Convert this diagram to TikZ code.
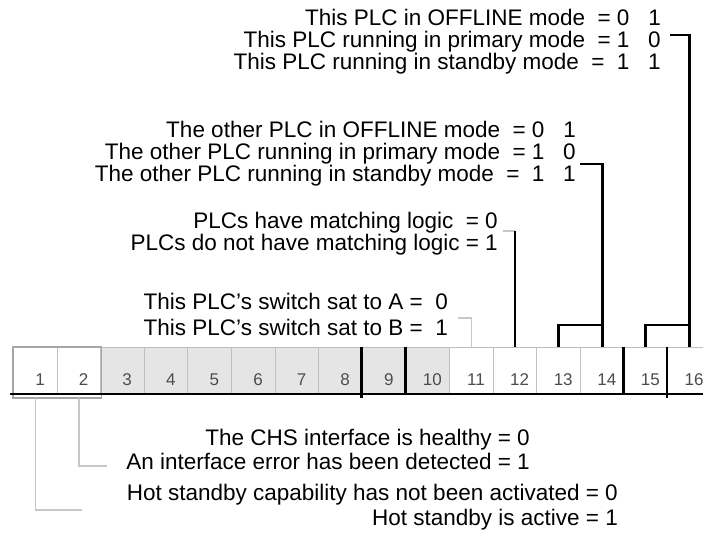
\documentclass[tikz,border=0pt]{standalone}
\usepackage{fontspec}
\setmainfont{Liberation Sans}
\begin{document}
\begin{tikzpicture}[x=1pt,y=-1pt,
  lab/.style={anchor=base east, inner sep=0pt, font=\fontsize{22.5}{27}\selectfont},
  num/.style={anchor=base, inner sep=0pt, text=black!70, font=\fontsize{17}{20}\selectfont},
  cellw/.style={draw=black!25, line width=1pt, fill=white, minimum width=43.6pt, minimum height=46pt, inner sep=0pt, anchor=north west},
  cellg/.style={cellw, fill=black!10},
  blk/.style={line width=2.8pt, line join=miter},
  gry/.style={draw=black!22, line width=1.5pt},
]
\useasboundingbox (0,0) rectangle (703,538);
\fill[white] (0,0) rectangle (703,538);

% register cells
\foreach \i in {1,2,11,12,13,14,15,16}
  \node[cellw] (c\i) at ({13+(\i-1)*43.6},347) {};
\foreach \i in {3,...,10}
  \node[cellg] (c\i) at ({13+(\i-1)*43.6},347) {};
\foreach \i in {1,...,16}
  \node[num] (n\i) at ({13+(\i-1)*43.6+27},385) {\i};
\draw[black!35, line width=1.2pt] (c1.north west) rectangle ([yshift=-4pt]c2.south east);

% thick dividers and base line
\draw[blk] (c9.north west) -- ([yshift=-4pt]c9.south west);
\draw[blk] (c10.north west) -- (c10.south west);
\draw[blk] (c15.north west) -- (c15.south west);
\draw[blk] (c16.north west) -- ([yshift=-4pt]c16.south west);
\draw[line width=2.5pt] ([xshift=-3pt]c1.south west) -- (c16.south east);

% texts
\node[lab] (t1) at (661,25) {This PLC in OFFLINE mode~~= 0~~~1};
\node[lab] (t2) at (661,47) {This PLC running in primary mode~~= 1~~~0};
\node[lab] (t3) at (661,69) {This PLC running in standby mode~~=~~1~~~1};
\node[lab] (o1) at (576,137) {The other PLC in OFFLINE mode~~= 0~~~1};
\node[lab] (o2) at (576,159) {The other PLC running in primary mode~~= 1~~~0};
\node[lab] (o3) at (576,181) {The other PLC running in standby mode~~=~~1~~~1};
\node[lab] (m1) at (498,228) {PLCs have matching logic~~= 0};
\node[lab] (m2) at (498,250) {PLCs do not have matching logic = 1};
\node[lab] (s1) at (448,309) {This PLC’s switch sat to A =~~0};
\node[lab] (s2) at (448,335) {This PLC’s switch sat to B =~~1};
\node[lab] (h1) at (530,445) {The CHS interface is healthy = 0};
\node[lab] (h2) at (530,469) {An interface error has been detected = 1};
\node[lab] (a1) at (618,500) {Hot standby capability has not been activated = 0};
\node[lab] (a2) at (618,525) {Hot standby is active = 1};

% connector end points
\coordinate (k16) at (670,35);
\coordinate (k14) at (580,164);
\coordinate (k12) at (503,231);
\coordinate (k11) at (458,318);
\coordinate (k2) at (107,466);
\coordinate (k1) at (82,510);

% connectors
\draw[blk] (k16) -| (c16.north);
\draw[blk] (c15.north) -- ++(0,-22) -| (c16.north);
\draw[blk] (k14) -| (c14.north);
\draw[blk] (c13.north) -- ++(0,-22) -| (c14.north);
\draw[gry] (k12) -- (k12 -| c12.north);
\draw[blk] (k12 -| c12.north) -- (c12.north);
\draw[gry] (k11) -| (c11.north);
\draw[gry] ([yshift=-4pt]c1.south) |- (k1);
\draw[gry] ([yshift=-4pt]c2.south) |- (k2);
\end{tikzpicture}
\end{document}
